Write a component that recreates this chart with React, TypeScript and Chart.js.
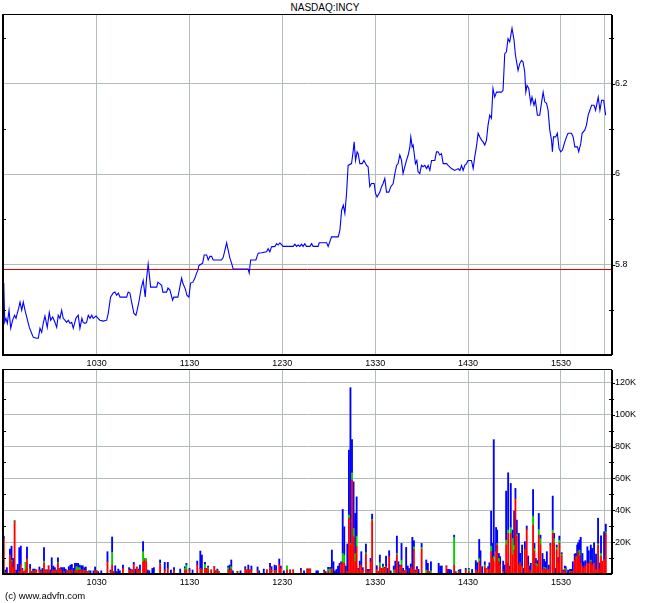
import React, { useEffect, useRef } from "react";
import { Chart, registerables } from "chart.js";

Chart.register(...registerables);

// ---------- data ----------
const title = "NASDAQ:INCY";
const footer = "(c) www.advfn.com";

// minutes after 09:30
const priceMinutes = [
  0, 0.6, 1.4, 2.3, 3.4, 4.5, 5.7, 7.0, 7.9, 8.7, 9.6, 10.5, 11.6, 12.6, 13.7, 14.8, 16.5, 18.0, 19.1, 21.3,
  22.3, 23.4, 24.5, 25.5, 26.6, 28.1, 29.4, 30.3, 31.6, 33.1, 34.2, 35.2, 36.3, 37.4, 38.4, 39.5, 40.6, 41.7, 42.8, 43.9,
  44.9, 46.6, 48.1, 49.2, 50.5, 51.3, 52.4, 53.5, 54.6, 55.7, 56.8, 57.8, 59.6, 61.0, 62.1, 64.3, 66.5, 67.5, 69.0, 70.7,
  71.8, 72.9, 74.0, 75.1, 79.4, 80.4, 81.5, 82.6, 84.1, 85.4, 86.2, 87.5, 88.8, 90.1, 91.4, 92.3, 93.3, 94.9, 98.8, 99.6,
  102.0, 102.8, 105.2, 106.1, 107.3, 109.1, 109.9, 112.5, 114.9, 115.7, 117.5, 118.3, 119.6, 120.7, 122.2, 123.5, 124.6, 125.4, 126.1, 128.5,
  129.5, 131.1, 132.1, 133.2, 134.3, 135.3, 140.7, 141.8, 142.9, 144.0, 145.0, 146.1, 147.2, 148.2, 157.9, 158.6, 159.5, 162.9, 164.4, 166.6,
  169.8, 170.8, 171.9, 173.0, 175.2, 176.3, 177.3, 178.4, 180.5, 187.0, 188.1, 189.2, 190.2, 191.3, 192.4, 193.4, 194.5, 195.6, 197.8, 198.9,
  199.9, 203.1, 203.8, 208.6, 209.6, 211.8, 216.1, 217.2, 218.3, 219.4, 220.4, 221.5, 222.5, 224.7, 225.7, 226.4, 227.3, 228.3, 229.0, 230.1,
  231.6, 232.7, 234.4, 235.4, 236.5, 237.6, 239.3, 240.2, 241.2, 243.0, 244.1, 245.1, 246.2, 247.3, 248.8, 250.1, 251.6, 252.7, 253.8, 254.8,
  255.9, 257.0, 258.0, 259.1, 260.2, 261.3, 262.4, 263.0, 263.9, 264.5, 266.0, 266.9, 267.7, 268.8, 269.9, 270.9, 272.0, 273.2, 274.2, 275.3,
  276.4, 278.5, 279.6, 280.6, 281.7, 282.8, 283.9, 286.1, 287.1, 289.3, 291.4, 293.6, 294.7, 295.8, 296.8, 297.9, 299.0, 300.0, 302.2, 303.3,
  304.3, 305.4, 306.5, 307.6, 308.7, 309.7, 310.8, 311.9, 312.9, 314.0, 315.1, 316.1, 317.2, 318.4, 321.6, 322.6, 323.7, 324.8, 325.8, 326.9,
  328.4, 329.7, 330.6, 332.3, 333.4, 334.5, 335.5, 336.6, 337.3, 338.1, 339.2, 340.5, 341.3, 342.6, 343.5, 344.8, 346.3, 347.4, 348.5, 349.6,
  350.7, 351.7, 352.8, 353.9, 354.5, 355.2, 356.6, 357.7, 358.8, 359.9, 361.0, 362.5, 363.6, 364.6, 366.8, 367.9, 369.0, 370.7, 371.5, 372.8,
  373.7, 375.4, 376.5, 377.6, 378.7, 379.8, 381.4, 382.4, 384.1, 385.2, 386.3, 387.6, 388.9,
];

const prices = [
  5.759, 5.673, 5.681, 5.670, 5.699, 5.659, 5.677, 5.688, 5.681, 5.692, 5.703, 5.717, 5.699, 5.717, 5.699, 5.684, 5.661, 5.648, 5.639, 5.637,
  5.637, 5.659, 5.650, 5.670, 5.686, 5.661, 5.694, 5.677, 5.684, 5.672, 5.661, 5.688, 5.681, 5.699, 5.681, 5.677, 5.672, 5.677, 5.670, 5.672,
  5.659, 5.681, 5.688, 5.659, 5.681, 5.672, 5.670, 5.672, 5.688, 5.681, 5.688, 5.681, 5.686, 5.681, 5.677, 5.675, 5.677, 5.692, 5.728, 5.737,
  5.739, 5.732, 5.737, 5.728, 5.728, 5.739, 5.737, 5.717, 5.692, 5.688, 5.699, 5.721, 5.748, 5.765, 5.728, 5.770, 5.801, 5.750, 5.750, 5.761,
  5.754, 5.739, 5.739, 5.748, 5.744, 5.721, 5.728, 5.728, 5.770, 5.759, 5.744, 5.732, 5.728, 5.759, 5.761, 5.770, 5.781, 5.787, 5.798, 5.803,
  5.821, 5.821, 5.810, 5.818, 5.818, 5.810, 5.810, 5.816, 5.832, 5.848, 5.832, 5.814, 5.803, 5.790, 5.790, 5.781, 5.810, 5.810, 5.825, 5.826,
  5.828, 5.835, 5.828, 5.839, 5.840, 5.846, 5.843, 5.848, 5.840, 5.840, 5.845, 5.840, 5.843, 5.840, 5.845, 5.840, 5.846, 5.840, 5.840, 5.846,
  5.840, 5.840, 5.848, 5.848, 5.840, 5.861, 5.861, 5.876, 5.920, 5.931, 5.913, 5.958, 6.019, 6.023, 6.049, 6.071, 6.030, 6.049, 6.045, 6.023,
  6.023, 6.030, 6.019, 6.016, 5.972, 5.979, 5.979, 5.957, 5.949, 5.960, 5.972, 5.979, 5.990, 5.960, 5.960, 5.972, 5.979, 6.001, 6.019, 6.023,
  6.042, 6.030, 6.001, 6.016, 6.030, 6.042, 6.060, 6.082, 6.060, 6.064, 6.023, 6.030, 6.005, 6.001, 6.019, 6.016, 6.019, 6.012, 6.019, 6.008,
  6.030, 6.030, 6.049, 6.049, 6.042, 6.045, 6.023, 6.023, 6.019, 6.012, 6.008, 6.012, 6.008, 6.019, 6.008, 6.019, 6.023, 6.030, 6.030, 6.012,
  6.038, 6.060, 6.090, 6.082, 6.075, 6.071, 6.064, 6.075, 6.108, 6.130, 6.123, 6.189, 6.170, 6.181, 6.181, 6.185, 6.266, 6.270, 6.299, 6.292,
  6.322, 6.296, 6.263, 6.229, 6.244, 6.251, 6.248, 6.226, 6.181, 6.196, 6.189, 6.156, 6.170, 6.152, 6.163, 6.130, 6.130, 6.156, 6.181, 6.159,
  6.156, 6.141, 6.097, 6.075, 6.049, 6.082, 6.082, 6.090, 6.056, 6.049, 6.053, 6.071, 6.082, 6.090, 6.090, 6.082, 6.060, 6.060, 6.049, 6.067,
  6.090, 6.097, 6.108, 6.130, 6.141, 6.152, 6.152, 6.141, 6.170, 6.141, 6.163, 6.163, 6.130,
];

const prevClose = 5.789;

// volume bars (thousands of shares): minute, red (bottom), green (middle), blue (top)
const volMinutes = [
  0, 1, 2, 4, 5, 6, 7, 8, 9, 10, 11, 12, 13, 14, 15, 17, 18, 19, 20, 21,
  23, 24, 25, 26, 27, 28, 29, 30, 31, 32, 33, 34, 35, 36, 37, 38, 39, 40, 41, 42,
  43, 44, 45, 46, 47, 48, 49, 50, 51, 52, 53, 54, 55, 56, 58, 59, 60, 61, 63, 67,
  69, 70, 71, 72, 73, 74, 75, 77, 81, 82, 83, 84, 85, 86, 87, 88, 90, 91, 92, 93,
  94, 96, 97, 101, 104, 106, 108, 110, 114, 117, 118, 120, 122, 125, 127, 128, 130, 131, 132, 134,
  136, 137, 138, 139, 145, 146, 147, 148, 151, 153, 156, 157, 158, 159, 160, 164, 165, 168, 170, 172,
  173, 175, 176, 178, 179, 181, 183, 185, 187, 192, 194, 196, 197, 198, 202, 203, 207, 208, 209.6, 210.9,
  212, 213, 214, 215, 216, 217, 218, 219, 220, 221, 222, 223, 224, 225, 226, 227, 228, 229, 230, 231,
  232, 234, 235, 236, 237, 238, 241, 242, 243, 244, 245, 246, 247, 248, 249, 250, 252, 253, 254, 255,
  256, 257, 258, 259, 260, 261, 262, 263, 264, 265, 266, 267, 268, 270, 273, 274, 275, 276, 281, 282,
  283, 286, 287, 288, 289, 291, 292, 294, 295, 298.5, 300.5, 302.6, 305.0, 305.9, 307.2, 308.0, 309.1, 310.8, 311.5, 313.0,
  313.8, 314.9, 316.0, 316.6, 318.1, 318.8, 319.9, 320.7, 322.7, 323.7, 324.6, 325.2, 325.9, 326.8, 327.6, 328.7, 329.8, 330.6, 331.5, 332.8,
  333.6, 334.9, 335.8, 336.7, 337.9, 338.8, 339.7, 340.5, 342.0, 342.9, 343.8, 344.8, 345.7, 346.8, 348.1, 349.1, 350.0, 350.9, 352.2, 353.2,
  354.7, 355.6, 356.5, 357.3, 358.2, 359.0, 360.5, 361.4, 362.5, 363.1, 364.6, 365.9, 366.8, 367.7, 368.9, 369.6, 370.5, 371.1, 372.0, 372.8,
  373.9, 374.8, 375.8, 377.1, 378.0, 379.3, 380.1, 381.4, 382.7, 384.0, 385.1, 385.9, 386.8, 387.9, 389.0,
];

const volRedK = [
  22.3, 1, 0, 11.9, 7.7, 4, 32.8, 0, 0, 1.5, 5.6, 2.5, 1.5, 2.5, 9.4, 3.5, 1.5, 1.5, 2, 2.5,
  2.5, 1.5, 0, 6.7, 2.5, 2.5, 5, 0, 1.5, 2.5, 2, 2, 6.7, 3.5, 2.5, 0, 1.5, 0, 2, 2,
  2, 2.5, 0, 2, 2, 2.5, 2.5, 2, 2.5, 2, 2, 1.5, 1.5, 0, 0, 2, 2, 0, 0, 7.7,
  1.5, 5.6, 1.5, 0, 0, 0, 0, 3.5, 2.5, 2, 2.5, 6, 0, 4, 2, 2.5, 7.7, 8.8, 7.7, 0,
  0, 0, 0, 6.1, 2.5, 3.5, 0, 2, 0, 2.5, 2.5, 2, 0, 5.6, 3.5, 2.5, 3.5, 3.5, 3.1, 2.5,
  4.6, 2, 2, 1.5, 2.5, 2, 3.1, 0, 1.5, 0, 3.1, 2.5, 2.5, 2.5, 2.5, 2, 0, 0, 2.5, 4,
  2, 2, 2, 6.1, 3.5, 0, 2.5, 2.5, 2.5, 2, 0, 3.1, 3.1, 3.1, 0, 0, 1.5, 0, 2, 0,
  3.5, 0, 0, 0, 0, 0, 6.3, 7.1, 6.7, 0, 1.5, 34.9, 18.2, 58.9, 23.4, 7.7, 17.1, 2.5, 5, 5.6,
  2, 12.5, 1.5, 1.5, 7.7, 33.4, 2.9, 1.5, 4.6, 3.5, 3.5, 3.5, 4.6, 0, 10.9, 0, 0, 2.9, 11.9, 0,
  4.6, 5.6, 1.5, 2, 2.5, 0, 0, 4.2, 2.5, 15.4, 1.5, 2.9, 0, 15.4, 0, 2, 1.5, 0, 0, 0,
  0, 5, 0, 0, 0, 5.6, 1, 1.5, 0, 2.5, 1.5, 0, 2.5, 1.5, 7.7, 4.6, 0, 4.6, 3.5, 2.9,
  2.9, 14, 9.8, 7.7, 14, 18.2, 7.7, 5.6, 1.5, 0, 18.2, 1.5, 25.5, 2.9, 25.5, 11.9, 15, 47.4, 23.8, 5.6,
  7.1, 4.6, 0, 15.4, 28, 5.6, 2.5, 1.5, 30.7, 14, 5.6, 4.6, 24.4, 18.2, 2.5, 3.5, 2.9, 2.5, 2.9, 18.2,
  25.5, 19.2, 0, 15, 7.1, 19.2, 11.3, 1.5, 2.5, 0, 0, 1.5, 1.5, 1.5, 8.4, 10.9, 8.8, 14, 11.3, 6.7,
  4.6, 3.5, 5, 6.7, 6.7, 7.7, 5.6, 6.7, 3, 18, 3, 10.9, 8, 9, 25.5,
];

const volGreenK = [
  0, 0, 0, 0, 1.1, 0, 0.6, 0, 0, 0, 0, 0, 0, 4.6, 0, 0, 0, 0, 0, 0,
  0, 0, 0, 1.4, 0, 0, 0, 0, 0, 0, 0, 0, 0.6, 0, 0, 0, 0, 0, 0, 0,
  0, 0, 0, 0, 2.6, 1.5, 1.5, 0, 0, 0, 0, 0, 0, 0, 0, 0, 0, 0, 0, 0,
  0, 8, 0, 0, 0, 0, 0, 0, 0, 0, 0, 0, 0, 0, 0, 0, 6.3, 1, 1.7, 0,
  0, 0, 0, 0.6, 0, 0, 0, 0, 0, 1, 3.1, 0, 0, 0, 0, 0, 2.6, 0, 0.9, 0,
  0, 0, 0, 0, 1.5, 0, 1.5, 0, 0, 0, 0, 0, 0, 0, 0, 0, 0, 0, 0, 0,
  0, 0, 0, 0, 0, 0, 2.5, 0, 0, 0, 0, 0, 0, 0, 0, 0, 0, 0, 1, 3,
  0, 0, 0, 0, 0, 0, 0, 5.8, 5.2, 0, 0, 2.1, 1, 4.6, 5.2, 5.2, 6.7, 0, 0, 0,
  0, 0.9, 0, 0, 0, 0.8, 0, 0, 2.5, 0, 1.1, 0, 0, 0, 0, 0, 2.5, 0, 1, 0,
  0, 3.2, 0, 0, 0, 0, 0, 0, 0, 1.7, 0, 0, 0, 1.3, 2.5, 0, 0, 2, 0, 0,
  0, 0, 0, 0, 0, 17.4, 0, 0, 0, 0, 1.4, 0, 0, 0, 2.1, 0, 0, 1, 0, 0,
  0, 3.5, 0, 3.2, 0, 1, 2.1, 0, 0, 0, 3.1, 0, 2.1, 0, 3.7, 10.4, 3, 0, 1, 0,
  0, 0, 0, 0, 0.2, 0, 0, 0, 5.6, 2.1, 1, 1.5, 3.6, 4.1, 0, 0.6, 1, 0, 0, 0,
  2.1, 3, 0, 1.7, 0, 2.1, 1.2, 0, 1, 0, 0, 0, 0, 0, 0, 0, 2.1, 0, 3.7, 0,
  0, 0, 0, 0, 0, 1, 0, 0, 0, 1, 0, 2, 0, 0, 1,
];

const volBlueK = [
  1.5, 1.5, 4, 3.8, 8.7, 5.8, 0, 2.5, 6, 15, 11.9, 1, 0, 0, 7.5, 2.5, 0, 1.6, 1.1, 0,
  1.9, 1, 3.5, 8.4, 0, 0, 0, 2.5, 8.7, 2.5, 2, 0.5, 2.9, 0, 1.5, 4, 2.5, 3, 0, 2.6,
  3.6, 3.5, 3.5, 4.7, 2.1, 2.7, 1.6, 3.2, 2.7, 2, 2.4, 0, 0.5, 2, 2, 2.4, 0, 1.5, 2, 6.3,
  1, 9.6, 0, 5.2, 1.5, 3.1, 2, 2.1, 1.5, 1.1, 0, 1.3, 3.1, 0.4, 1.1, 3.1, 6.3, 0, 0, 2.5,
  2, 3.5, 4, 2.1, 4.8, 3.8, 2.5, 2, 3.1, 1.1, 1.1, 1.5, 2.5, 2.5, 10.9, 9.4, 1.2, 0, 1, 0,
  0, 0, 1.1, 0, 1, 3.6, 4.2, 2, 0, 2, 1.5, 0, 3.1, 0, 2.5, 2.4, 2, 3.1, 0, 2.7,
  2.6, 3.6, 3.2, 3.3, 1.5, 2, 0, 0, 0, 1.5, 2, 0, 0, 0, 2, 2, 1, 1.5, 1.2, 1.2,
  11.5, 7.7, 2, 2.9, 5, 6.7, 1.4, 27.6, 17.7, 5, 17.3, 40.7, 97.7, 20.8, 29.2, 25.1, 24.6, 1, 3.1, 8.4,
  2, 5.4, 1.4, 1.4, 2.1, 3.4, 2.3, 0, 4.8, 0, 1.7, 0.7, 6.7, 3.5, 3.7, 2, 2.5, 5.2, 10.9, 7.7,
  1, 10.4, 2, 0, 14.2, 5, 3.5, 2.1, 20.5, 3.8, 1, 1.7, 2.9, 2.5, 6.3, 4.7, 0, 5.7, 6.7, 5,
  5, 0, 2.9, 2.9, 2.5, 1.4, 0.5, 1, 2.9, 1, 0.6, 2.9, 5.9, 5.6, 11.9, 10, 4.6, 2.1, 0, 1.7,
  4.2, 22, 9.4, 73.4, 15.2, 8.4, 3.1, 5.3, 6.6, 5.6, 30.7, 5.2, 35.9, 2.1, 27.6, 5.3, 21.5, 6.3, 9, 19.9,
  5.8, 13.6, 3.5, 4.9, 1.9, 5.7, 2.5, 5.2, 16.7, 3.1, 3.2, 2.3, 10, 2.1, 10.4, 5.1, 3.8, 11.5, 2.7, 1,
  21.3, 3.3, 3.5, 1.5, 3.3, 2.5, 0.9, 1, 1.5, 4.6, 2.5, 1.4, 1.4, 6.2, 4.1, 2, 7.3, 5.6, 6.3, 16.3,
  8.3, 4.2, 3.4, 10.4, 7.9, 9.5, 10.5, 12.9, 9.5, 16, 4, 11.1, 0, 17.5, 4.8,
];

// axes
const sessionStartMinute = -0.5;
const sessionEndMinute = 393;
const xTickMinutes = [60, 120, 180, 240, 300, 360];
const xTickLabels = ["1030", "1130", "1230", "1330", "1430", "1530"];
const lastTradeMinute = 388;

const priceMin = 5.6;
const priceMax = 6.3514;
const priceTicks = [5.8, 6.0, 6.2];
const priceTickLabels = ["5.8", "6", "6.2"];
const priceMinorTicks = [5.7, 5.9, 6.1, 6.3];

const volMaxK = 128;
const volTicksK = [20, 40, 60, 80, 100, 120];
const volTickLabels = ["20K", "40K", "60K", "80K", "100K", "120K"];
const volMinorTicksK = [10, 30, 50, 70, 90, 110];

// ---------- styling ----------
const FONT = "'Liberation Sans', Arial, sans-serif";
const GRID = "#b3bcbc";

function framePlugin(minor: number[], major: number[]) {
  return {
    id: "frame",
    afterDraw(chart: any) {
      const { ctx, chartArea } = chart;
      const { left, top, right, bottom } = chartArea;
      const y = chart.scales.y;
      ctx.save();
      ctx.fillStyle = "#000";
      ctx.fillRect(left - 1, top, 2, bottom - top);
      ctx.fillRect(right - 1, top, 2, bottom - top);
      ctx.fillRect(left - 1, top - 1, right - left + 1, 1);
      ctx.fillRect(left - 1, bottom - 1, right - left + 1, 2);
      for (const v of minor) {
        const py = Math.round(y.getPixelForValue(v));
        ctx.fillRect(left + 1, py, 2, 1);
        ctx.fillRect(right - 3, py, 5, 1);
      }
      for (const v of major) {
        const py = Math.round(y.getPixelForValue(v));
        ctx.fillRect(right + 1, py, 2, 1);
      }
      ctx.restore();
    },
  };
}

function xAxis(height: number) {
  return {
    type: "linear" as const,
    position: "bottom" as const,
    min: sessionStartMinute,
    max: sessionEndMinute,
    offset: false,
    afterBuildTicks: (axis: any) => {
      axis.ticks = [...xTickMinutes, lastTradeMinute].map((v) => ({ value: v }));
    },
    afterFit: (axis: any) => {
      axis.height = height;
    },
    grid: { color: GRID, lineWidth: 1, drawTicks: false, offset: false },
    border: { display: false },
    ticks: {
      autoSkip: false,
      maxRotation: 0,
      padding: 3,
      color: "#000",
      font: { family: FONT, size: 9 },
      callback: (v: any) => {
        const i = xTickMinutes.indexOf(Number(v));
        return i >= 0 ? xTickLabels[i] : "";
      },
    },
  };
}

function yAxis(min: number, max: number, ticks: number[], labels: string[]) {
  return {
    type: "linear" as const,
    position: "right" as const,
    min,
    max,
    afterBuildTicks: (axis: any) => {
      axis.ticks = ticks.map((v) => ({ value: v }));
    },
    afterFit: (axis: any) => {
      axis.width = 38;
    },
    grid: { color: GRID, lineWidth: 1, drawTicks: false },
    border: { display: false },
    ticks: {
      padding: 3,
      color: "#000",
      font: { family: FONT, size: 9 },
      callback: (v: any) => {
        const i = ticks.findIndex((t) => Math.abs(t - Number(v)) < 1e-6);
        return i >= 0 ? labels[i] : "";
      },
    },
  };
}

function PriceChart() {
  const ref = useRef<HTMLCanvasElement | null>(null);
  useEffect(() => {
    if (!ref.current) return;
    const chart = new Chart(ref.current, {
      type: "line",
      data: {
        datasets: [
          {
            data: priceMinutes.map((t, i) => ({ x: t, y: prices[i] })),
            borderColor: "#0000ff",
            borderWidth: 1.1,
            pointRadius: 0,
            tension: 0,
            fill: false,
          },
          {
            data: [
              { x: sessionStartMinute, y: prevClose },
              { x: sessionEndMinute, y: prevClose },
            ],
            borderColor: "#d40000",
            borderWidth: 1,
            pointRadius: 0,
            fill: false,
          },
        ],
      },
      options: {
        responsive: false,
        animation: false,
        devicePixelRatio: 1,
        layout: { padding: { left: 3, top: 15, right: 0, bottom: 0 } },
        plugins: { legend: { display: false }, tooltip: { enabled: false } },
        scales: {
          x: xAxis(15),
          y: yAxis(priceMin, priceMax, priceTicks, priceTickLabels),
        },
      } as any,
      plugins: [framePlugin(priceMinorTicks, priceTicks)],
    });
    return () => chart.destroy();
  }, []);
  return (
    <canvas
      ref={ref}
      width={650}
      height={370}
      style={{ position: "absolute", left: 0, top: 0, width: 650, height: 370 }}
    />
  );
}

function VolumeChart() {
  const ref = useRef<HTMLCanvasElement | null>(null);
  useEffect(() => {
    if (!ref.current) return;
    const mk = (vals: number[], color: string) => ({
      data: volMinutes.map((t, i) => ({ x: t, y: vals[i] })),
      backgroundColor: color,
      borderWidth: 0,
      barThickness: 1.2,
    });
    const chart = new Chart(ref.current, {
      type: "bar",
      data: {
        datasets: [mk(volRedK, "#ff0000"), mk(volGreenK, "#00cc00"), mk(volBlueK, "#0000ff")],
      },
      options: {
        responsive: false,
        animation: false,
        devicePixelRatio: 1,
        layout: { padding: { left: 3, top: 10, right: 0, bottom: 0 } },
        plugins: { legend: { display: false }, tooltip: { enabled: false } },
        scales: {
          x: { ...xAxis(29), stacked: true },
          y: { ...yAxis(0, volMaxK, volTicksK, volTickLabels), stacked: true },
        },
      } as any,
      plugins: [framePlugin(volMinorTicksK, volTicksK)],
    });
    return () => chart.destroy();
  }, []);
  return (
    <canvas
      ref={ref}
      width={650}
      height={243}
      style={{ position: "absolute", left: 0, top: 360, width: 650, height: 243 }}
    />
  );
}

export default function App() {
  return (
    <div
      style={{
        position: "absolute",
        left: 0,
        top: 0,
        width: 650,
        height: 603,
        background: "#fff",
        overflow: "hidden",
        fontFamily: FONT,
      }}
    >
      <div
        style={{
          position: "absolute",
          left: 0,
          top: 3,
          width: 650,
          textAlign: "center",
          fontSize: 10,
          lineHeight: "10px",
          color: "#000",
        }}
      >
        {title}
      </div>
      <PriceChart />
      <VolumeChart />
      <div
        style={{
          position: "absolute",
          left: 5,
          top: 591,
          fontSize: 9.5,
          lineHeight: "10px",
          color: "#000",
          whiteSpace: "nowrap",
        }}
      >
        {footer}
      </div>
    </div>
  );
}
